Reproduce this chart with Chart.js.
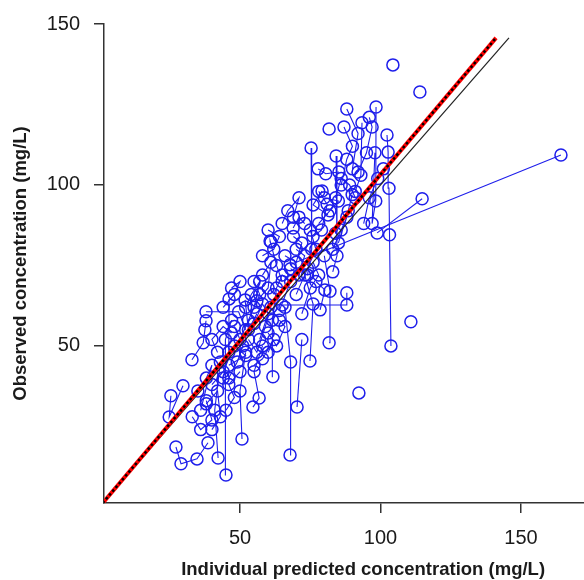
<!DOCTYPE html>
<html>
<head>
<meta charset="utf-8">
<script src="https://cdn.jsdelivr.net/npm/chart.js@4.4.1/dist/chart.umd.min.js"></script>
<style>
  body { margin: 0; background: #fff; }
  canvas { display: block; }
</style>
</head>
<body>
<canvas id="ipredChart" width="584" height="580"></canvas>
<script>
// observed vs individual predicted, one array of [ipred, obs] per subject
const subjects = [
    [[67.8, 75.2], [164.2, 109.3]],
    [[98.8, 85.1], [114.8, 95.7]],
    [[103.7, 50.0], [103.2, 84.5], [103.0, 99], [102.7, 110.2], [102.3, 115.5]],
    [[110.8, 57.5]],
    [[104.4, 137.3]],
    [[114, 128.9]],
    [[92.3, 35.4]],
    [[45, 9.9], [44.8, 52], [47, 58]],
    [[67.8, 16.1], [68, 45], [66, 62]],
    [[70.3, 31], [72, 52]],
    [[74.9, 45.3], [76, 63], [73, 72]],
    [[81.7, 51], [82, 67], [80, 78]],
    [[88, 66.5], [88, 62.7], [65, 62.7]],
    [[61.7, 40.4], [61.5, 58], [63, 68]],
    [[25.4, 34.5], [24.8, 27.9], [29.7, 37.6]],
    [[27.2, 18.6], [29, 13.4], [34.7, 14.9], [38.6, 19.9]],
    [[42.2, 15.2], [41, 30], [43, 45]],
    [[50.7, 21.1], [50, 36], [52, 48]],
    [[37.9, 60.6], [49.5, 60.6], [52, 55]],
    [[46.1, 64.6], [46, 48], [44, 40]],
    [[51.8, 64.3], [53, 55], [56, 60]],
    [[32.9, 45.7], [36.9, 51], [37.5, 55], [37.9, 57.8]],
    [[54.6, 31], [56.8, 33.8], [55, 42], [58, 50]],
    [[61, 82.3], [60.7, 82.6], [63, 75], [65, 70]],
    [[75.3, 111.5], [75.5, 80], [74, 72]],
    [[84.2, 109], [84.5, 78], [83, 73]],
    [[88, 123.6], [92, 116], [90, 105]],
    [[98.4, 124.2], [98.3, 95], [97, 88], [98, 110]],
    [[81.7, 117.4]],
    [[93.4, 119.3], [93, 103], [91, 98]],
    [[77.8, 105], [80.5, 103.5], [85.2, 104]],
    [[79.2, 98.1], [76, 93.8], [81.3, 90.7]],
    [[89.9, 97], [88.5, 92], [84, 85]],
    [[68.9, 86.6], [71, 90], [73, 88]],
    [[78.5, 61.2], [80.2, 67.4], [77, 70]],
    [[40, 38], [44, 42], [48, 50], [52, 47], [46, 44]],
    [[55, 57], [58, 63], [60, 60], [57, 52]],
    [[50, 52], [53, 58], [57, 66], [55, 70]],
    [[62, 66], [65, 72], [68, 70], [64, 61]],
    [[66, 78], [70, 76], [72, 82], [69, 84]],
    [[58, 72], [61, 76], [60, 68], [56, 64]],
    [[70, 66], [74, 74], [77, 80], [75, 86]],
    [[78, 88], [82, 92], [85, 95], [80, 96]],
    [[86, 100], [88, 108], [90, 112], [87, 118]],
    [[42, 48], [40, 52], [44, 56], [47, 54]],
    [[35, 36], [38, 40], [40, 44], [36, 30]],
    [[33, 28], [36, 24], [40, 27], [38, 33]],
    [[45, 30], [48, 34], [46, 38], [50, 42]],
    [[60, 54], [63, 50], [66, 56], [64, 58]],
    [[72, 60], [75, 68], [78, 72], [76, 76]],
    [[92, 104], [95, 110], [97, 118], [96, 121]],
    [[94, 88], [96, 96], [99, 102], [101, 105]],
    [[83, 80], [86, 86], [88, 90], [85, 82]],
    [[65, 88], [67, 92], [71, 96], [69, 90]],
    [[52, 62], [54, 66], [57, 70], [55, 62]],
    [[44, 62], [48, 66], [50, 70], [47, 68]],
    [[58, 78], [62, 80], [64, 84], [60, 86]],
    [[68, 74], [71, 72], [73, 78], [70, 80]],
    [[76, 84], [79, 86], [81, 94], [78, 98]],
    [[53, 52], [56, 48], [59, 56], [61, 62]],
    [[46, 40], [49, 45], [51, 50], [48, 56]],
    [[84, 96], [86, 102], [89, 100], [91, 96]],
    [[38, 32], [42, 36], [43, 28], [40, 24]],
    [[55, 44], [58, 46], [62, 52], [60, 48]]
];

const identityLine = [[0, 0], [145.7, 145.7]];
const fitLine = [[0, 0], [141.1, 145.7]];

const xTicks = [50, 100, 150];
const yTicks = [50, 100, 150];
const xTitle = 'Individual predicted concentration (mg/L)';

const blue = 'rgb(30, 30, 235)';
const toXY = pts => pts.map(p => ({x: p[0], y: p[1]}));

let datasets = [];
// index 0 gets drawn on top
datasets.push({
    data: toXY(fitLine), showLine: true, pointRadius: 0,
    borderColor: 'black', borderWidth: 2.5, borderDash: [2.5, 2.5]
});
datasets.push({
    data: toXY(fitLine), showLine: true, pointRadius: 0,
    borderColor: 'red', borderWidth: 4
});
datasets.push({
    data: toXY(identityLine), showLine: true, pointRadius: 0,
    borderColor: '#222', borderWidth: 1.2
});
subjects.forEach(s => {
    datasets.push({
        data: toXY(s), showLine: true,
        borderColor: blue, borderWidth: 1.1,
        pointRadius: 6, pointBorderWidth: 1.5,
        pointBorderColor: blue, pointBackgroundColor: 'rgba(0,0,0,0)'
    });
});

const fontFamily = "'Liberation Sans', Arial, sans-serif";
const font = {family: fontFamily};

// the original plot region ran past the right edge of the picture,
// so the x title is centred on that wider region (up to x = 186)
const xTitlePlugin = {
    id: 'xTitle',
    afterDraw: chart => {
        const ctx = chart.ctx;
        const x = chart.scales.x.getPixelForValue((1.6 + 186) / 2);
        ctx.save();
        ctx.font = 'bold 18.5px ' + fontFamily;
        ctx.fillStyle = '#1a1a1a';
        ctx.textAlign = 'center';
        ctx.textBaseline = 'middle';
        ctx.fillText(xTitle, x, 570);
        ctx.restore();
    }
};

new Chart(document.getElementById('ipredChart'), {
    type: 'scatter',
    data: {datasets: datasets},
    plugins: [xTitlePlugin],
    options: {
        responsive: false,
        animation: false,
        layout: {autoPadding: false, padding: {top: 24, right: 0, left: 0, bottom: 0}},
        plugins: {legend: {display: false}, tooltip: {enabled: false}},
        scales: {
            x: {
                type: 'linear', min: 1.6, max: 172.4,
                afterBuildTicks: axis => { axis.ticks = xTicks.map(v => ({value: v})); },
                afterFit: axis => {
                    axis.height = 77;
                    axis.paddingLeft = 0;
                    axis.paddingRight = 0;
                },
                grid: {drawOnChartArea: false, drawTicks: true, tickLength: 10, color: '#333', lineWidth: 1.5},
                border: {display: true, color: '#333', width: 1.5},
                ticks: {padding: 13, color: '#1a1a1a', font: {...font, size: 20}},
                title: {display: false}
            },
            y: {
                type: 'linear', min: 1.2, max: 150,
                afterBuildTicks: axis => { axis.ticks = yTicks.map(v => ({value: v})); },
                afterFit: axis => {
                    axis.width = 104;
                    axis.paddingTop = 0;
                    axis.paddingBottom = 0;
                },
                grid: {drawOnChartArea: false, drawTicks: true, tickLength: 10, color: '#333', lineWidth: 1.5},
                border: {display: true, color: '#333', width: 1.5},
                ticks: {padding: 14, color: '#1a1a1a', font: {...font, size: 20}},
                title: {display: true, text: 'Observed concentration (mg/L)',
                    color: '#1a1a1a', padding: {top: 10, bottom: 0}, font: {...font, size: 18.5, weight: 'bold'}}
            }
        }
    }
});
</script>
</body>
</html>
